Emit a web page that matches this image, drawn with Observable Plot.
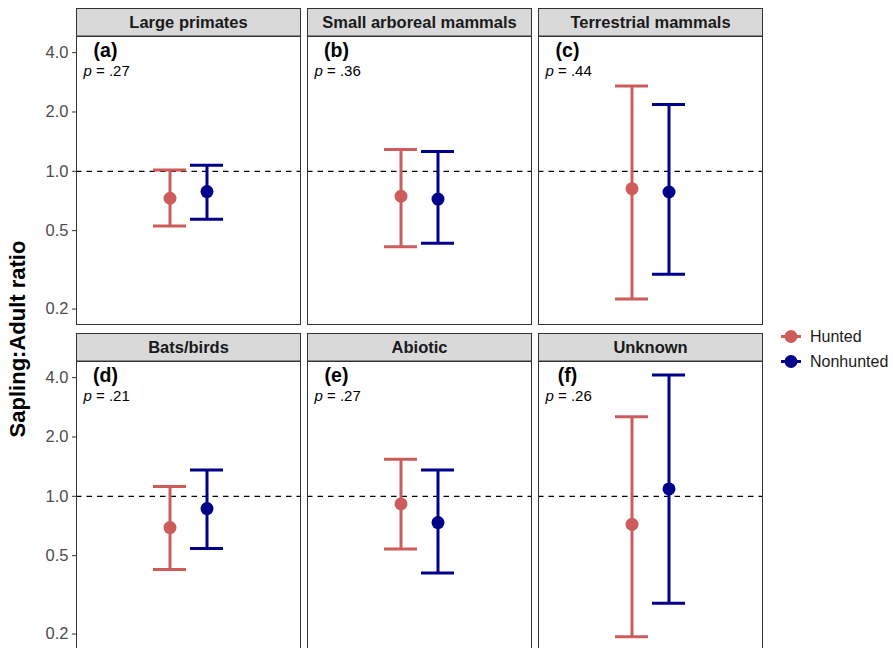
<!DOCTYPE html>
<html><head><meta charset="utf-8">
<script src="https://cdn.jsdelivr.net/npm/d3@7"></script>
<script src="https://cdn.jsdelivr.net/npm/@observablehq/plot@0.6"></script>
<style>
body{margin:0;background:#fff;font-family:"Liberation Sans",Arial,sans-serif;}
#wrap{position:relative;width:893px;height:648px;overflow:hidden;background:#fff;}
#chart{position:absolute;left:0;top:0;}
#ytitle{position:absolute;left:18px;top:339px;transform:translate(-50%,-50%) rotate(-90deg);font-weight:bold;font-size:22px;white-space:nowrap;color:#000;}
#legend{position:absolute;left:778px;top:324px;font-size:16px;color:#1a1a1a;}
.item{display:flex;align-items:center;height:25px;}
.item svg{margin-right:6px;}
</style></head><body>
<div id="wrap"><div id="chart"></div><div id="ytitle">Sapling:Adult ratio</div><div id="legend"></div></div>
<script>
// ---- data ----
const groups = ["Large primates", "Small arboreal mammals", "Terrestrial mammals", "Bats/birds", "Abiotic", "Unknown"];
const letters = ["(a)", "(b)", "(c)", "(d)", "(e)", "(f)"];
const pValues = [".27", ".36", ".44", ".21", ".27", ".26"];
const statuses = ["Hunted", "Nonhunted"];
const statusColors = ["#CD5C5C", "#00008B"];
const huntedMean = [0.73, 0.747, 0.816, 0.694, 0.915, 0.721];
const huntedLow = [0.528, 0.414, 0.225, 0.425, 0.541, 0.194];
const huntedHigh = [1.016, 1.29, 2.71, 1.12, 1.54, 2.53];
const nonhuntedMean = [0.789, 0.723, 0.785, 0.866, 0.736, 1.09];
const nonhuntedLow = [0.571, 0.431, 0.30, 0.543, 0.408, 0.287];
const nonhuntedHigh = [1.073, 1.26, 2.18, 1.36, 1.36, 4.12];
const yTicks = [0.2, 0.5, 1, 2, 4];
const yDomain = [0.167, 4.83];

// ---- tables ----
const rows = [];
groups.forEach((g, i) => {
  const col = i % 3, row = Math.floor(i / 3);
  rows.push({group: g, col, row, status: "Hunted", mean: huntedMean[i], low: huntedLow[i], high: huntedHigh[i]});
  rows.push({group: g, col, row, status: "Nonhunted", mean: nonhuntedMean[i], low: nonhuntedLow[i], high: nonhuntedHigh[i]});
});
const panels = groups.map((g, i) => ({group: g, letter: letters[i], p: "= " + pValues[i], col: i % 3, row: Math.floor(i / 3)}));

const W = 770, H = 650, mT = 36, mB = 0, mL = 75, mR = 8;
const fyPadInner = 0.1137;
const facetH = (H - mT - mB) / (2 - fyPadInner) * (1 - fyPadInner);
const stripH = 28;
const font = "Liberation Sans, Arial, sans-serif";

const chart = Plot.plot({
  width: W, height: H,
  marginTop: mT, marginBottom: mB, marginLeft: mL, marginRight: mR,
  style: {fontFamily: font, background: "white"},
  fx: {domain: [0, 1, 2], paddingInner: 0.0324, paddingOuter: 0, axis: null},
  fy: {domain: [0, 1], paddingInner: fyPadInner, paddingOuter: 0, axis: null},
  x: {type: "band", domain: statuses, paddingInner: 0.108, paddingOuter: 2.08, axis: null},
  y: {type: "log", domain: yDomain, label: null},
  color: {domain: statuses, range: statusColors},
  marks: [
    // strip backgrounds
    Plot.frame({fill: "#d9d9d9", stroke: "#333", strokeWidth: 1, insetTop: -stripH, insetBottom: facetH}),
    Plot.text(panels, {fx: "col", fy: "row", text: "group", frameAnchor: "top", textAnchor: "middle", lineAnchor: "middle", dy: -stripH / 2, fontSize: 16.5, fontWeight: "bold", fill: "#1a1a1a"}),
    Plot.ruleY([1], {stroke: "#000", strokeWidth: 1.2, strokeDasharray: "5.5,5"}),
    Plot.ruleX(rows, {fx: "col", fy: "row", x: "status", y1: "low", y2: "high", stroke: "status", strokeWidth: 3}),
    Plot.tickY(rows, {fx: "col", fy: "row", x: "status", y: "low", stroke: "status", strokeWidth: 3}),
    Plot.tickY(rows, {fx: "col", fy: "row", x: "status", y: "high", stroke: "status", strokeWidth: 3}),
    Plot.dot(rows, {fx: "col", fy: "row", x: "status", y: "mean", fill: "status", r: 6.5}),
    Plot.frame({stroke: "#333", strokeWidth: 1}),
    Plot.text(panels, {fx: "col", fy: "row", text: "letter", frameAnchor: "top-left", textAnchor: "middle", lineAnchor: "middle", dx: 29, dy: 14, fontSize: 19.5, fontWeight: "bold", fill: "#000"}),
    Plot.text(panels, {fx: "col", fy: "row", text: d => "p", frameAnchor: "top-left", textAnchor: "start", lineAnchor: "middle", dx: 7, dy: 34.5, fontSize: 15, fontStyle: "italic", fill: "#000"}),
    Plot.text(panels, {fx: "col", fy: "row", text: "p", frameAnchor: "top-left", textAnchor: "start", lineAnchor: "middle", dx: 19.5, dy: 34.5, fontSize: 15, fill: "#000"}),
    Plot.axisY({ticks: yTicks, tickFormat: d3.format(".1f"), tickSize: 4, tickPadding: 4, fontSize: 16.5, fill: "#4d4d4d", stroke: "#333", label: null})
  ]
});
document.getElementById("chart").appendChild(chart);

// legend
const legend = document.getElementById("legend");
statuses.forEach((s, i) => {
  const item = document.createElement("div");
  item.className = "item";
  item.innerHTML = `<svg width="26" height="25"><line x1="3" x2="23" y1="12.5" y2="12.5" stroke="${statusColors[i]}" stroke-width="3"/><circle cx="13" cy="12.5" r="6.5" fill="${statusColors[i]}"/></svg><span>${s}</span>`;
  legend.appendChild(item);
});
</script>
</body></html>
